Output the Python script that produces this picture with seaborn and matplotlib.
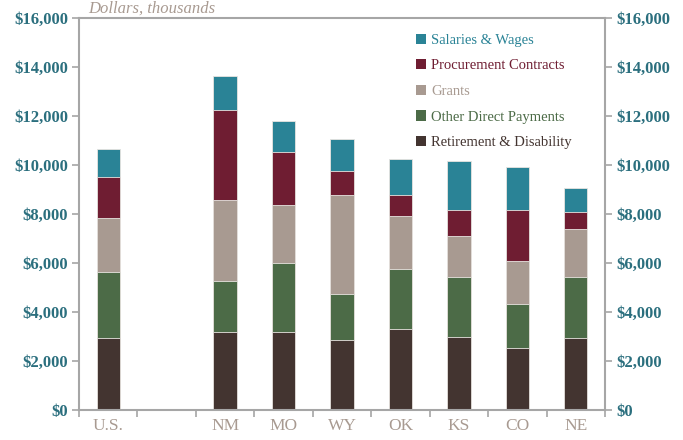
import matplotlib
matplotlib.use('Agg')
import matplotlib.pyplot as plt
from matplotlib.patches import Patch
from matplotlib.ticker import FuncFormatter
import numpy as np
import seaborn as sns

# data, thousands of dollars
categories = ['U.S.', '', 'NM', 'MO', 'WY', 'OK', 'KS', 'CO', 'NE']
states = ['U.S.', 'NM', 'MO', 'WY', 'OK', 'KS', 'CO', 'NE']
retirement = [2940, 3200, 3200, 2870, 3320, 2990, 2540, 2940]
other_direct = [2690, 2070, 2800, 1880, 2440, 2430, 1800, 2480]
grants = [2210, 3300, 2370, 4010, 2140, 1680, 1750, 1950]
procurement = [1670, 3670, 2150, 1010, 860, 1080, 2090, 720]
salaries = [1140, 1390, 1280, 1290, 1480, 2000, 1740, 960]

series = [
    ('Retirement & Disability', retirement, '#433430'),
    ('Other Direct Payments', other_direct, '#4c6b47'),
    ('Grants', grants, '#a89a91'),
    ('Procurement Contracts', procurement, '#6f1d32'),
    ('Salaries & Wages', salaries, '#2a8396'),
]

teal = '#2b6f7e'
tan = '#a89a91'
spine_col = '#a6a6a6'

sns.set_style('white')
plt.rcParams['font.family'] = ['Liberation Serif', 'DejaVu Serif']

fig = plt.figure(figsize=(6.83, 4.40), dpi=100)
ax = fig.add_axes([79 / 683, 1 - 410 / 440, 526 / 683, 392 / 440])

# stacked bars: draw cumulative totals from the top layer down
cums = np.cumsum([s[1] for s in series], axis=0)
for i in range(len(series) - 1, -1, -1):
    sns.barplot(x=states, y=cums[i], order=categories, color=series[i][2],
                width=0.4, errorbar=None, saturation=1, ax=ax,
                edgecolor='#e8e4e0', linewidth=0.6)

ax.set_ylim(0, 16000)
ax.set_xlim(-0.5, len(categories) - 0.5)
ax.set_xlabel('')
ax.set_ylabel('')
ax.set_yticks(np.arange(0, 16001, 2000))
fmt = FuncFormatter(lambda v, p: '${:,.0f}'.format(v))
ax.yaxis.set_major_formatter(fmt)

for sp in ax.spines.values():
    sp.set_visible(True)
    sp.set_color(spine_col)
    sp.set_linewidth(1.5)

ax.tick_params(axis='y', which='both', left=True, length=5, width=1.2,
               color=spine_col, labelsize=12, labelcolor=teal, pad=3)
for t in ax.get_yticklabels():
    t.set_fontweight('bold')

ax.set_xticks(range(len(categories)))
ax.set_xticklabels(categories)
ax.set_xticks(np.arange(-0.5, len(categories), 1), minor=True)
ax.tick_params(axis='x', which='major', length=0, labelsize=12.5,
               labelcolor=tan, pad=6)
ax.tick_params(axis='x', which='minor', bottom=True, length=5, width=1.2,
               color=spine_col)

ax2 = ax.twinx()
ax2.set_ylim(0, 16000)
ax2.set_yticks(np.arange(0, 16001, 2000))
ax2.yaxis.set_major_formatter(fmt)
for sp in ax2.spines.values():
    sp.set_visible(False)
ax2.tick_params(axis='y', right=True, length=5, width=1.2, color=spine_col,
                labelsize=12, labelcolor=teal, pad=3)
for t in ax2.get_yticklabels():
    t.set_fontweight('bold')

handles = [Patch(facecolor=c, edgecolor='none', label=n)
           for n, _, c in reversed(series)]
leg = ax.legend(handles=handles, loc='upper left', bbox_to_anchor=(0.64, 0.96),
                frameon=False, fontsize=10.5, handlelength=0.7,
                handleheight=0.7, handletextpad=0.35, labelspacing=0.85,
                borderpad=0, borderaxespad=0,
                labelcolor=[c for _, _, c in reversed(series)])

fig.text(88 / 683, 1 - 13 / 440, 'Dollars, thousands', style='italic',
         color=tan, fontsize=12, va='baseline', ha='left')

fig.savefig('out.png', dpi=100)
